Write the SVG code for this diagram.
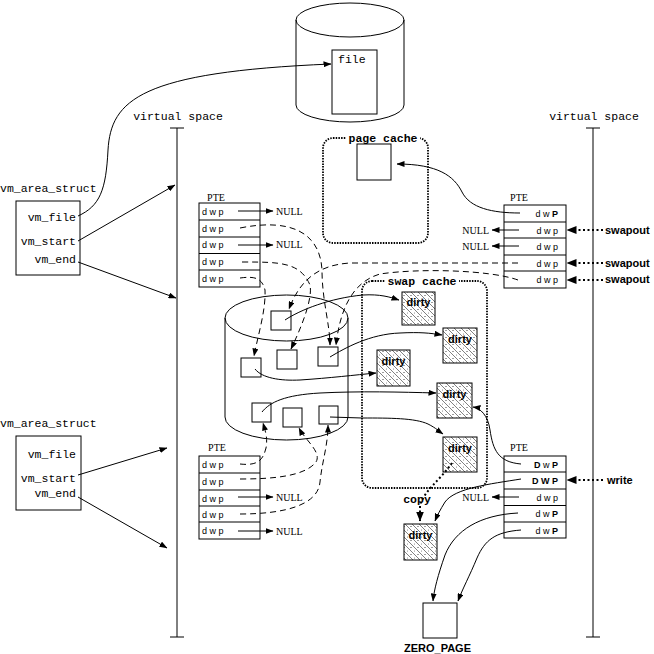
<svg xmlns="http://www.w3.org/2000/svg" width="654" height="654" viewBox="0 0 654 654">
<defs>
<marker id="ah" markerUnits="userSpaceOnUse" markerWidth="8" markerHeight="6" refX="7.5" refY="3" orient="auto"><path d="M0,0 L8,3 L0,6 Z" fill="#000"/></marker>
<marker id="ahb" markerUnits="userSpaceOnUse" markerWidth="10" markerHeight="8" refX="9.5" refY="4" orient="auto"><path d="M0,0 L10,4 L0,8 Z" fill="#000"/></marker>
<pattern id="hatch" width="7" height="7" patternUnits="userSpaceOnUse"><rect width="7" height="7" fill="#fff"/><path d="M-1,-1 L8,8" stroke="#000" stroke-width="0.5"/><circle cx="5" cy="1.5" r="0.5" fill="#000"/><circle cx="1.5" cy="5" r="0.4" fill="#000"/></pattern>
<style>
.ln{fill:none;stroke:#000;stroke-width:1}
.arr{fill:none;stroke:#000;stroke-width:1;marker-end:url(#ah)}
.dash{fill:none;stroke:#000;stroke-width:1;stroke-dasharray:6 4;marker-end:url(#ah)}
.hvy{fill:none;stroke:#000;stroke-width:2;stroke-dasharray:2 2.5;marker-end:url(#ahb)}
.box{fill:#fff;stroke:#000;stroke-width:1}
.dirty{fill:url(#hatch);stroke:#000;stroke-width:1}
.dot{fill:none;stroke:#000;stroke-width:1.8;stroke-dasharray:1.5 1.2}
.mono{font-family:"Liberation Mono",monospace;font-size:11.5px}
.monob{font-family:"Liberation Mono",monospace;font-size:11.5px;font-weight:bold}
.pte{font-family:"Liberation Serif",serif;font-size:10px}
.cell{font-family:"Liberation Sans",sans-serif;font-size:9px}
.cellb{font-family:"Liberation Sans",sans-serif;font-size:9px;font-weight:bold}
.null{font-family:"Liberation Serif",serif;font-size:10px}
.sb{font-family:"Liberation Sans",sans-serif;font-weight:bold;font-size:11px}
</style>
</defs>
<rect width="654" height="654" fill="#fff"/>

<g id="file-disk">
<path class="ln" d="M296,20 L296,105 A54,17 0 0 0 404,105 L404,20"/>
<ellipse class="ln" cx="350" cy="20" rx="54" ry="17"/>
<rect class="box" x="332" y="50" width="45" height="64"/>
<text class="mono" x="338" y="63">file</text>
</g>

<g id="vspace-left">
<text class="mono" x="178" y="120" text-anchor="middle">virtual space</text>
<path class="ln" d="M177,128 L177,637 M170,128 L184,128 M170,637 L184,637"/>
</g>
<g id="vspace-right">
<text class="mono" x="594" y="120" text-anchor="middle">virtual space</text>
<path class="ln" d="M593,128 L593,637 M586,128 L600,128 M586,637 L600,637"/>
</g>

<g id="vma-top">
<text class="mono" x="0" y="192">vm_area_struct</text>
<rect class="box" x="16" y="201" width="64" height="74"/>
<text class="mono" x="76" y="221" text-anchor="end">vm_file</text>
<text class="mono" x="76" y="245" text-anchor="end">vm_start</text>
<text class="mono" x="76" y="263" text-anchor="end">vm_end</text>
</g>
<g id="vma-bottom">
<text class="mono" x="0" y="427">vm_area_struct</text>
<rect class="box" x="16" y="436" width="65" height="74"/>
<text class="mono" x="76" y="458" text-anchor="end">vm_file</text>
<text class="mono" x="76" y="482" text-anchor="end">vm_start</text>
<text class="mono" x="76" y="497" text-anchor="end">vm_end</text>
</g>

<g id="pte-tl">
<text class="pte" x="216" y="201" text-anchor="middle">PTE</text>
<rect class="box" x="199" y="203" width="61" height="84"/>
<path class="ln" d="M199,220 H260 M199,237 H260 M199,253.5 H260 M199,270 H260"/>
<text class="cell" x="202" y="214.5">d w p</text>
<text class="cell" x="202" y="231.5">d w p</text>
<text class="cell" x="202" y="248">d w p</text>
<text class="cell" x="202" y="265">d w p</text>
<text class="cell" x="202" y="281.5">d w p</text>
<text class="null" x="276" y="214.5">NULL</text>
<text class="null" x="276" y="248">NULL</text>
</g>

<g id="pte-tr">
<text class="pte" x="519" y="201" text-anchor="middle">PTE</text>
<rect class="box" x="504" y="205" width="62" height="83"/>
<path class="ln" d="M504,222 H566 M504,238 H566 M504,255 H566 M504,271 H566"/>
<text class="cell" x="558" y="217" text-anchor="end">d w <tspan font-weight="bold">P</tspan></text>
<text class="cell" x="558" y="233.5" text-anchor="end">d w p</text>
<text class="cell" x="558" y="250" text-anchor="end">d w p</text>
<text class="cell" x="558" y="266.5" text-anchor="end">d w p</text>
<text class="cell" x="558" y="283" text-anchor="end">d w p</text>
<text class="null" x="489" y="233.5" text-anchor="end">NULL</text>
<text class="null" x="489" y="250" text-anchor="end">NULL</text>
<text class="sb" x="605" y="233.5">swapout</text>
<text class="sb" x="605" y="266.5">swapout</text>
<text class="sb" x="605" y="283">swapout</text>
</g>

<g id="pte-bl">
<text class="pte" x="217" y="451" text-anchor="middle">PTE</text>
<rect class="box" x="199" y="456" width="61" height="83"/>
<path class="ln" d="M199,473 H260 M199,490 H260 M199,506 H260 M199,522 H260"/>
<text class="cell" x="202" y="468">d w p</text>
<text class="cell" x="202" y="484.5">d w p</text>
<text class="cell" x="202" y="501.5">d w p</text>
<text class="cell" x="202" y="517.5">d w p</text>
<text class="cell" x="202" y="534">d w p</text>
<text class="null" x="276" y="501">NULL</text>
<text class="null" x="276" y="534.5">NULL</text>
</g>

<g id="pte-br">
<text class="pte" x="519" y="451" text-anchor="middle">PTE</text>
<rect class="box" x="504" y="456" width="62" height="82"/>
<path class="ln" d="M504,472 H566 M504,489 H566 M504,505.5 H566 M504,522 H566"/>
<text class="cell" x="558" y="467.5" text-anchor="end"><tspan font-weight="bold">D</tspan> w <tspan font-weight="bold">P</tspan></text>
<text class="cellb" x="558" y="484" text-anchor="end">D W P</text>
<text class="cell" x="558" y="500.5" text-anchor="end">d w p</text>
<text class="cell" x="558" y="517" text-anchor="end">d w <tspan font-weight="bold">P</tspan></text>
<text class="cell" x="558" y="533.5" text-anchor="end">d w <tspan font-weight="bold">P</tspan></text>
<text class="null" x="489" y="500.5" text-anchor="end">NULL</text>
<text class="sb" x="607" y="484">write</text>
</g>

<g id="page-cache">
<rect class="dot" x="323" y="138" width="105" height="105" rx="10"/>
<rect x="346" y="132" width="74" height="12" fill="#fff"/>
<text class="monob" x="383" y="141.5" text-anchor="middle">page cache</text>
<rect class="box" x="357" y="144" width="34" height="36"/>
</g>

<g id="swap-disk">
<path class="ln" d="M225,318 L225,417 A61.5,23 0 0 0 348,417 L348,318"/>
<ellipse class="ln" cx="286.5" cy="318" rx="61.5" ry="23"/>
<rect class="box" x="271" y="311" width="20" height="19"/>
<rect class="box" x="241" y="358" width="20" height="19"/>
<rect class="box" x="277" y="350" width="20" height="19"/>
<rect class="box" x="318" y="347" width="20" height="19"/>
<rect class="box" x="252" y="403" width="19" height="19"/>
<rect class="box" x="283" y="408" width="19" height="19"/>
<rect class="box" x="319" y="406" width="19" height="18"/>
</g>

<g id="swap-cache">
<rect class="dot" x="362" y="281" width="125" height="207" rx="10"/>
<rect x="385" y="275" width="74" height="12" fill="#fff"/>
<text class="monob" x="422" y="284.5" text-anchor="middle">swap cache</text>
<rect class="dirty" x="402" y="292" width="33" height="33"/>
<text class="sb" x="418.5" y="306" text-anchor="middle">dirty</text>
<rect class="dirty" x="443" y="328" width="34" height="35"/>
<text class="sb" x="460" y="343" text-anchor="middle">dirty</text>
<rect class="dirty" x="377" y="350" width="33" height="36"/>
<text class="sb" x="393.5" y="365" text-anchor="middle">dirty</text>
<rect class="dirty" x="437" y="383" width="35" height="35"/>
<text class="sb" x="454.5" y="398" text-anchor="middle">dirty</text>
<rect class="dirty" x="443" y="437" width="34" height="35"/>
<text class="sb" x="460" y="452" text-anchor="middle">dirty</text>
</g>

<g id="copy-page">
<text class="monob" x="417" y="503" text-anchor="middle">copy</text>
<rect class="dirty" x="404" y="524" width="33" height="36"/>
<text class="sb" x="420.5" y="539" text-anchor="middle">dirty</text>
</g>

<g id="zero-page">
<rect class="box" x="423" y="603" width="34" height="35"/>
<text class="sb" x="437.5" y="652" text-anchor="middle" font-size="10">ZERO_PAGE</text>
</g>

<g id="connectors">
<path class="arr" d="M78,216 C100,206 106,190 108,150 C111,100 140,72 331,64"/>
<path class="arr" d="M78,241 L175,185"/>
<path class="arr" d="M78,262 L176,298"/>
<path class="arr" d="M78,475 L167,448"/>
<path class="arr" d="M78,497 L167,548"/>
<path class="arr" d="M238,211 L273,211"/>
<path class="arr" d="M238,245 L273,245"/>
<path class="arr" d="M238,497 L273,497"/>
<path class="arr" d="M238,531 L273,531"/>
<path class="arr" d="M519,230 L492,230"/>
<path class="arr" d="M519,246 L492,246"/>
<path class="arr" d="M519,497 L492,497"/>
<path class="arr" d="M520,213 C492,213 470,208 462,192 C454,176 438,164 397,164"/>
<path class="hvy" d="M603,230 L567,230"/>
<path class="hvy" d="M603,263 L567,263"/>
<path class="hvy" d="M603,280 L567,280"/>
<path class="hvy" d="M603,480 L567,480"/>
<path class="arr" d="M521,464 C498,462 493,450 490,430 C488,415 480,408 473,407"/>
<path class="arr" d="M521,479 C490,484 455,488 445,502 C440,510 437,516 435,521"/>
<path class="arr" d="M518,513 C480,515 455,530 445,555 C438,575 434,590 433,601"/>
<path class="arr" d="M521,530 C495,532 485,540 477,558 C470,575 462,590 458,601"/>
<path class="hvy" d="M452,463 C440,480 425,490 420,505 L420,521"/>
<path class="arr" d="M285,320 C300,310 330,298 363,295 C380,294 390,297 399,300"/>
<path class="arr" d="M330,357 C345,348 370,334 400,333 C420,332 430,333 442,335"/>
<path class="arr" d="M255,369 C262,378 280,381 300,380 C330,378 355,375 376,373"/>
<path class="arr" d="M262,412 C270,402 285,395 320,393 C360,391 400,392 436,393"/>
<path class="arr" d="M330,417 L362,418 C390,418 415,418 428,424 C436,428 440,432 443,434"/>
<path class="dash" d="M240,278 C255,276 262,278 265,290 C266,310 258,335 254,356"/>
<path class="dash" d="M240,228 C290,218 320,232 322,270 C322,300 330,325 330,345"/>
<path class="dash" d="M242,262 C280,262 300,262 310,285 C313,300 300,330 291,349"/>
<path class="dash" d="M518,263 L350,263 C318,265 300,280 289,309"/>
<path class="dash" d="M518,280 C490,270 420,268 380,274 C352,282 340,310 336,345"/>
<path class="dash" d="M240,464 C258,466 263,460 266,448 C268,438 265,430 263,423"/>
<path class="dash" d="M240,479 C275,479 305,476 316,462 C322,452 305,440 299,428"/>
<path class="dash" d="M240,514 C285,514 318,505 320,482 C322,462 328,445 328,425"/>
</g>
</svg>
